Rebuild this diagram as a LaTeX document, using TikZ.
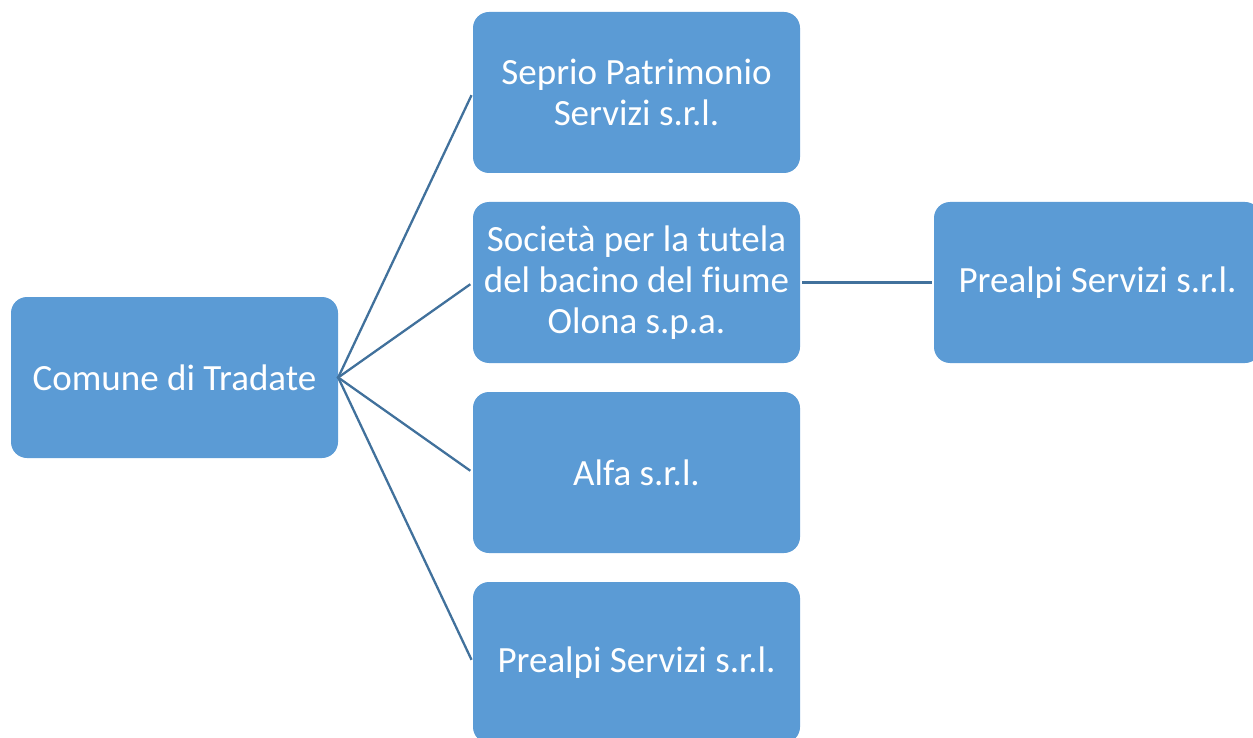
\documentclass[tikz,border=0pt]{standalone}
\usepackage{fontspec}
\setmainfont{Carlito}[Ligatures=NoCommon]
\definecolor{boxblue}{HTML}{5B9BD5}
\definecolor{linkblue}{HTML}{41719C}
\begin{document}
\begin{tikzpicture}[x=1pt,y=1pt,
  orgbox/.style={rectangle, rounded corners=16pt, fill=boxblue, draw=none,
    minimum width=327pt, minimum height=161pt, inner sep=0pt,
    text=white, align=center, font=\fontsize{37}{41}\selectfont},
  link/.style={draw=linkblue, line width=2.3pt}]
\useasboundingbox (0,0) rectangle (1253,-738);
\clip (0,0) rectangle (1253,-738);
\node[orgbox] (comune) at (174.5,-377.5) {Comune di Tradate};
\node[orgbox] (seprio) at (636.5,-92.5) {Seprio Patrimonio\\Servizi s.r.l.};
\node[orgbox] (societa) at (636.5,-282.5) {Società per la tutela\\del bacino del fiume\\Olona s.p.a.};
\node[orgbox] (alfa) at (636.5,-472.5) {Alfa s.r.l.};
\node[orgbox] (prealpiA) at (636.5,-662.5) {Prealpi Servizi s.r.l.};
\node[orgbox] (prealpiB) at (1097.5,-282.5) {Prealpi Servizi s.r.l.};
\draw[link, shorten <=-1pt, shorten >=3pt] (comune.east) -- (seprio.west);
\draw[link, shorten <=-1pt, shorten >=3pt] (comune.east) -- (societa.west);
\draw[link, shorten <=-1pt, shorten >=3pt] (comune.east) -- (alfa.west);
\draw[link, shorten <=-1pt, shorten >=3pt] (comune.east) -- (prealpiA.west);
\draw[link, shorten <=2pt, shorten >=2pt] (societa.east) -- (prealpiB.west);
\end{tikzpicture}
\end{document}
